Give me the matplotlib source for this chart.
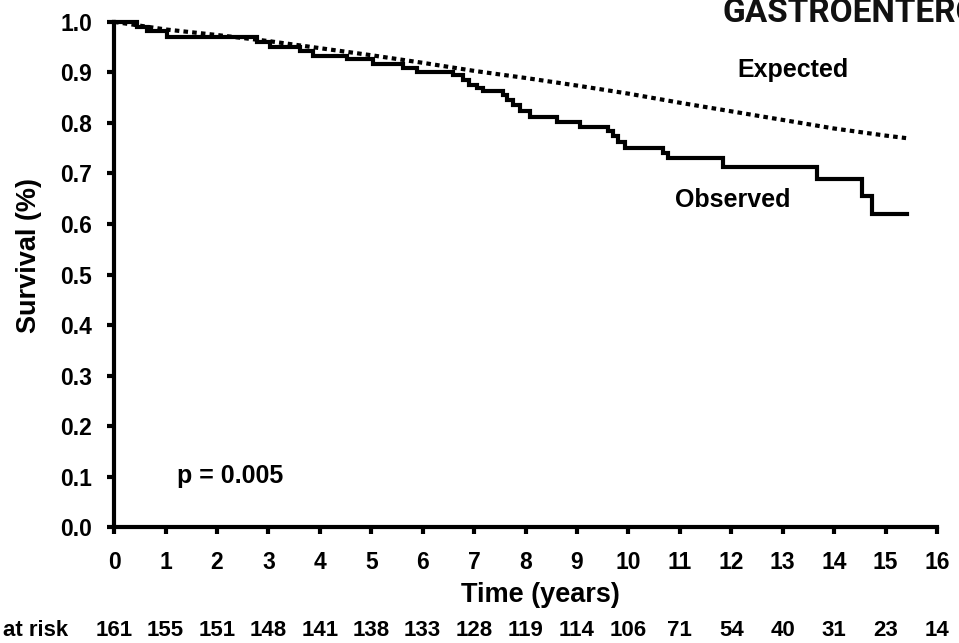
import matplotlib
matplotlib.use("Agg")
import matplotlib.pyplot as plt

plt.rcParams['font.family'] = ['Liberation Sans', 'DejaVu Sans']
plt.rcParams['font.weight'] = 'bold'

# observed survival (Kaplan-Meier steps)
obs_t = [0, 0.45, 0.64, 1.03, 2.78, 3.03, 3.62, 3.87, 4.53, 5.04, 5.62, 5.89,
         6.59, 6.78, 6.9, 7.06, 7.17, 7.56, 7.64, 7.76, 7.89, 8.09, 8.61, 9.06,
         9.6, 9.7, 9.8, 9.93, 10.67, 10.77, 11.84, 13.67, 14.54, 14.73, 15.42]
obs_s = [1.0, 0.99, 0.982, 0.970, 0.960, 0.950, 0.943, 0.933, 0.926, 0.916,
         0.909, 0.900, 0.895, 0.885, 0.876, 0.869, 0.863, 0.855, 0.846, 0.836,
         0.824, 0.812, 0.802, 0.792, 0.784, 0.775, 0.762, 0.750, 0.741, 0.731,
         0.713, 0.689, 0.655, 0.620, 0.620]

# expected survival
exp_t = [0, 1, 2, 3, 4, 5, 6, 7, 8, 9, 10, 11, 12, 13, 14, 15, 15.4]
exp_s = [1.0, 0.985, 0.974, 0.962, 0.948, 0.934, 0.919, 0.903, 0.889, 0.874,
         0.858, 0.840, 0.823, 0.806, 0.789, 0.775, 0.770]

# numbers at risk
risk_years = list(range(17))
at_risk = [161, 155, 151, 148, 141, 138, 133, 128, 119, 114, 106, 71, 54, 40, 31, 23, 14]

fig = plt.figure(figsize=(9.59, 6.43), dpi=100)
ax = fig.add_axes([0.119, 0.180, 0.858, 0.786])

ax.plot(obs_t, obs_s, drawstyle='steps-post', color='black', lw=3,
        solid_joinstyle='miter', clip_on=False, zorder=3)
ax.plot(exp_t, exp_s, color='black', lw=3, linestyle=(0, (1.1, 1.0)),
        clip_on=False, zorder=2)

ax.set_xlim(0, 16)
ax.set_ylim(0, 1.0)
ax.set_xticks(range(17))
ax.set_yticks([i / 10 for i in range(11)])
ax.set_yticklabels([f"{i / 10:.1f}" for i in range(11)])

for s in ['top', 'right']:
    ax.spines[s].set_visible(False)
for s in ['left', 'bottom']:
    ax.spines[s].set_linewidth(3)
ax.tick_params(direction='out', length=5, width=3, labelsize=16.5)
ax.tick_params(axis='x', pad=12)
ax.tick_params(axis='y', pad=11)

ax.set_xlabel("Time (years)", fontsize=19.5, fontweight='bold')
ax.set_ylabel("Survival (%)", fontsize=19.5, fontweight='bold')
ax.xaxis.set_label_coords(0.518, -0.108)
ax.yaxis.set_label_coords(-0.088, 0.537)

ax.text(13.2, 0.905, "Expected", fontsize=18, ha='center', va='center')
ax.text(12.03, 0.648, "Observed", fontsize=18, ha='center', va='center')
ax.text(1.22, 0.101, "p = 0.005", fontsize=18, ha='left', va='center')

# at risk row
fig.text(68 / 959, 1 - 630 / 643, "at risk", fontsize=16, ha='right', va='center')
for yr, n in zip(risk_years, at_risk):
    ax.annotate(str(n), xy=(yr, 0), xycoords=('data', 'axes fraction'),
                xytext=(0, -74), textcoords='offset points',
                ha='center', va='center', fontsize=16, annotation_clip=False)

fig.text(723 / 959, 1 - 22 / 643, "GASTROENTEROLOGY", fontsize=24,
         family='Roboto', fontweight='bold', ha='left', va='baseline', color='#111111')

fig.savefig("out.png", dpi=100)
